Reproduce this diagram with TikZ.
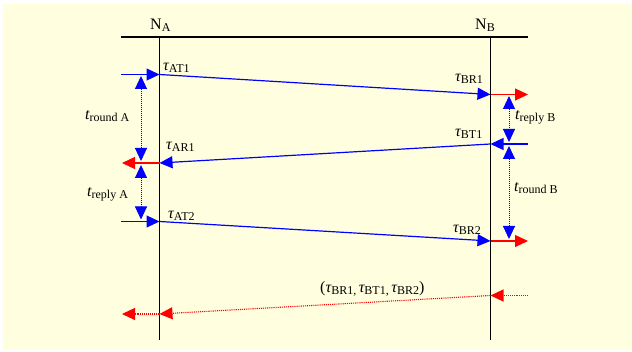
\documentclass[tikz,border=0pt]{standalone}
\usepackage{fontspec}
\setmainfont{Liberation Serif}
\usetikzlibrary{arrows.meta}
\definecolor{bgyellow}{RGB}{255,255,224}
\definecolor{myblue}{RGB}{0,0,255}
\definecolor{myred}{RGB}{255,0,0}
\newcommand\symsub[2]{{\fontsize{16}{18}\selectfont\itshape #1}\raisebox{-0.35ex}{\fontsize{12}{14}\selectfont #2}}
\newcommand\upsub[2]{{\fontsize{16}{18}\selectfont #1}\raisebox{-0.35ex}{\fontsize{12}{14}\selectfont #2}}
\begin{document}
\begin{tikzpicture}[x=1pt,y=-1pt,
  tip/.style={-{Triangle[length=13pt,width=12pt]}},
  dimtip/.style={{Triangle[length=13pt,width=12pt]}-{Triangle[length=13pt,width=12pt]}},
  life/.style={line width=1.4pt,black},
  msg/.style={line width=1.2pt,myblue,tip},
  redmsg/.style={line width=1.2pt,myred,tip},
  reddot/.style={line width=1.1pt,myred,densely dotted,tip},
  dim/.style={line width=1pt,myblue,densely dotted,dimtip},
  lab/.style={inner sep=0pt,anchor=base west}]
\useasboundingbox (0,0) rectangle (632,352);
\fill[bgyellow] (3,4) rectangle (632,350);
% lifelines
\coordinate (hl) at (121,37);
\coordinate (hr) at (528,37);
\coordinate (at) at (159.5,37);
\coordinate (ab) at (159.5,340);
\coordinate (bt) at (490.5,37);
\coordinate (bb) at (490.5,340);
\draw[life] (hl) -- (hr);
\draw[life] (at) -- (ab);
\draw[life] (bt) -- (bb);
\node[lab] (NA) at (150,30) {\upsub{N}{A}};
\node[lab] (NB) at (475,30) {\upsub{N}{B}};
% points
\coordinate (s1) at (121,74.5);
\coordinate (A1) at (159.5,74.5);
\coordinate (B1) at (490.5,94.5);
\coordinate (R1) at (528,94.5);
\coordinate (s2) at (528,144);
\coordinate (B2) at (490.5,144);
\coordinate (A2) at (159.5,163);
\coordinate (L2) at (122,163);
\coordinate (s3) at (121,221.5);
\coordinate (A3) at (159.5,221.5);
\coordinate (B3) at (490.5,241);
\coordinate (R3) at (528,241);
\coordinate (s4) at (528,295.5);
\coordinate (B4) at (490.5,295.5);
\coordinate (A4) at (159.5,314);
\coordinate (L4) at (122,314);
% messages
\draw[msg] (s1) -- (A1);
\draw[msg] (A1) -- (B1);
\draw[redmsg] (B1) -- (R1);
\draw[msg] (s2) -- (B2);
\draw[msg] (B2) -- (A2);
\draw[redmsg] (A2) -- (L2);
\draw[msg] (s3) -- (A3);
\draw[msg] (A3) -- (B3);
\draw[redmsg] (B3) -- (R3);
\draw[reddot] (s4) -- (B4);
\draw[reddot] (B4) -- (A4);
\draw[reddot] (A4) -- (L4);
% dimension arrows
\coordinate (dA1) at (141,76);
\coordinate (dA2) at (141,161);
\coordinate (dA3) at (141,165);
\coordinate (dA4) at (141,219.5);
\coordinate (dB1) at (509,96);
\coordinate (dB2) at (509,142);
\coordinate (dB3) at (509,146);
\coordinate (dB4) at (509,239);
\draw[dim] (dA1) -- (dA2);
\draw[dim] (dA3) -- (dA4);
\draw[dim] (dB1) -- (dB2);
\draw[dim] (dB3) -- (dB4);
% labels
\node[lab] (tAT1) at (163,71) {\symsub{τ}{AT1}};
\node[lab] (tBR1) at (455,82) {\symsub{τ}{BR1}};
\node[lab] (tAR1) at (166,150) {\symsub{τ}{AR1}};
\node[lab] (tBT1) at (455,137) {\symsub{τ}{BT1}};
\node[lab] (tAT2) at (168,219) {\symsub{τ}{AT2}};
\node[lab] (tBR2) at (453,233) {\symsub{τ}{BR2}};
\node[lab] (trA) at (85,120) {\symsub{t}{round A}};
\node[lab] (tpA) at (87,197) {\symsub{t}{reply A}};
\node[lab] (tpB) at (515,120) {\symsub{t}{reply B}};
\node[lab] (trB) at (514,192) {\symsub{t}{round B}};
\node[lab] (trip) at (320,293) {{\fontsize{16}{18}\selectfont (}\symsub{τ}{BR1,} \symsub{τ}{BT1,} \symsub{τ}{BR2}{\fontsize{16}{18}\selectfont )}};
\end{tikzpicture}
\end{document}
